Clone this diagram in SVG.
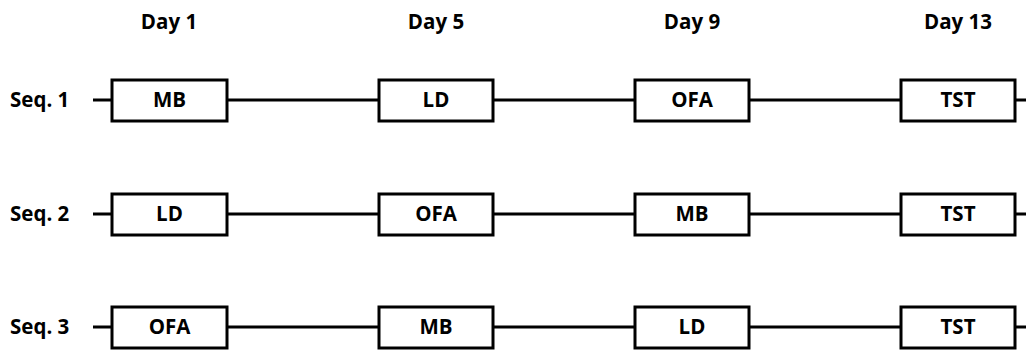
<svg xmlns="http://www.w3.org/2000/svg" width="1026" height="350" viewBox="0 0 1026 350">
<style>
text{font-family:"Open Sans","Liberation Sans",sans-serif;font-weight:bold;font-size:20.5px;fill:#000}
.box{fill:#fff;stroke:#000;stroke-width:3}
.ln{stroke:#000;stroke-width:3;fill:none}
.c{text-anchor:middle}
</style>
<rect width="1026" height="350" fill="#fff"/>
<g id="headers">
<text class="c" x="169" y="29">Day 1</text>
<text class="c" x="436" y="29">Day 5</text>
<text class="c" x="692" y="29">Day 9</text>
<text class="c" x="958" y="29">Day 13</text>
</g>
<g id="connectors">
<line class="ln" x1="93" y1="100" x2="1026" y2="100"/>
<line class="ln" x1="93" y1="214" x2="1026" y2="214"/>
<line class="ln" x1="93" y1="327" x2="1026" y2="327"/>
</g>
<g id="seq1-label"><text x="10" y="107">Seq. 1</text></g>
<g id="seq2-label"><text x="10" y="221">Seq. 2</text></g>
<g id="seq3-label"><text x="10" y="334">Seq. 3</text></g>
<g id="s1-mb"><rect class="box" x="112" y="80" width="115" height="41"/><text class="c" x="169.5" y="107">MB</text></g>
<g id="s1-ld"><rect class="box" x="379" y="80" width="114" height="41"/><text class="c" x="436" y="107">LD</text></g>
<g id="s1-ofa"><rect class="box" x="635" y="80" width="114" height="41"/><text class="c" x="692" y="107">OFA</text></g>
<g id="s1-tst"><rect class="box" x="901" y="80" width="114" height="41"/><text class="c" x="958" y="107">TST</text></g>
<g id="s2-ld"><rect class="box" x="112" y="194" width="115" height="41"/><text class="c" x="169.5" y="221">LD</text></g>
<g id="s2-ofa"><rect class="box" x="379" y="194" width="114" height="41"/><text class="c" x="436" y="221">OFA</text></g>
<g id="s2-mb"><rect class="box" x="635" y="194" width="114" height="41"/><text class="c" x="692" y="221">MB</text></g>
<g id="s2-tst"><rect class="box" x="901" y="194" width="114" height="41"/><text class="c" x="958" y="221">TST</text></g>
<g id="s3-ofa"><rect class="box" x="112" y="307" width="115" height="41"/><text class="c" x="169.5" y="334">OFA</text></g>
<g id="s3-mb"><rect class="box" x="379" y="307" width="114" height="41"/><text class="c" x="436" y="334">MB</text></g>
<g id="s3-ld"><rect class="box" x="635" y="307" width="114" height="41"/><text class="c" x="692" y="334">LD</text></g>
<g id="s3-tst"><rect class="box" x="901" y="307" width="114" height="41"/><text class="c" x="958" y="334">TST</text></g>
</svg>
